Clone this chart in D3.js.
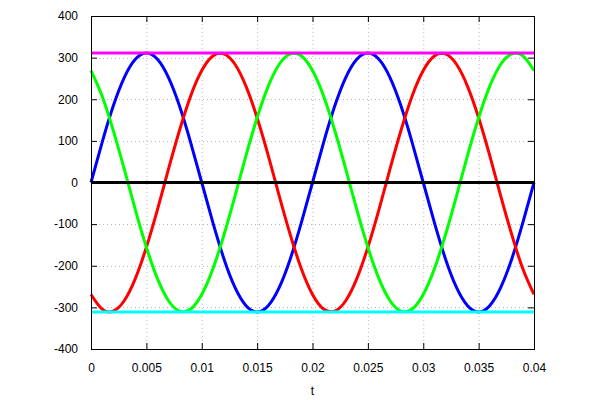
<!DOCTYPE html>
<html><head><meta charset="utf-8">
<script src="https://cdn.jsdelivr.net/npm/d3@7"></script>
<style>body{margin:0;background:#fff}svg{display:block}text{font-family:"Liberation Sans",Arial,sans-serif;font-size:12px;fill:#000}</style>
</head><body>
<svg id="c" width="600" height="400"></svg>
<script>
const tValues = [0,0.001,0.002,0.003,0.004,0.005,0.006,0.007,0.008,0.009,0.010,0.011,0.012,0.013,0.014,0.015,0.016,0.017,0.018,0.019,0.020,0.021,0.022,0.023,0.024,0.025,0.026,0.027,0.028,0.029,0.030,0.031,0.032,0.033,0.034,0.035,0.036,0.037,0.038,0.039,0.040];
const blueValues = [0,96,183,252,296,311,296,252,183,96,0,-96,-183,-252,-296,-311,-296,-252,-183,-96,0,96,183,252,296,311,296,252,183,96,0,-96,-183,-252,-296,-311,-296,-252,-183,-96,0];
const redValues = [-269,-304,-309,-284,-231,-155.5,-65,32.5,126,208,269,304,309,284,231,155.5,65,-32.5,-126,-208,-269,-304,-309,-284,-231,-155.5,-65,32.5,126,208,269,304,309,284,231,155.5,65,-32.5,-126,-208,-269];
const greenValues = [269,208,126,32.5,-65,-155.5,-231,-284,-309,-304,-269,-208,-126,-32.5,65,155.5,231,284,309,304,269,208,126,32.5,-65,-155.5,-231,-284,-309,-304,-269,-208,-126,-32.5,65,155.5,231,284,309,304,269];
const upperT = [0,0.04], upperValues = [311,311];
const lowerT = [0,0.04], lowerValues = [-311,-311];
const zeroT = [0,0.04], zeroValues = [0,0];
const xTicks = [0,0.005,0.01,0.015,0.02,0.025,0.03,0.035,0.04];
const yTicks = [-400,-300,-200,-100,0,100,200,300,400];
const xLabel = "t";

const L=91,R=534,T=16,B=349;
const svg=d3.select("#c");
const x=d3.scaleLinear().domain([0,0.04]).range([L,R]);
const y=d3.scaleLinear().domain([-400,400]).range([B,T]);

// grid
const g=svg.append("g");
g.selectAll("line.gx").data(xTicks.slice(1,-1)).join("line")
 .attr("x1",d=>x(d)+0.5).attr("x2",d=>x(d)+0.5).attr("y1",T).attr("y2",B)
 .attr("stroke","#bbb").attr("stroke-width",1).attr("stroke-dasharray","1,3");
g.selectAll("line.gy").data(yTicks.slice(1,-1)).join("line")
 .attr("y1",d=>Math.round(y(d))+0.5).attr("y2",d=>Math.round(y(d))+0.5).attr("x1",L).attr("x2",R)
 .attr("stroke","#bbb").attr("stroke-width",1).attr("stroke-dasharray","1,3");

// axes with inward ticks
const fmtX=d=>d===0?"0":String(+d.toFixed(3));
const fmtY=d=>String(d);
const axB=svg.append("g").attr("transform",`translate(0,${B})`)
 .call(d3.axisBottom(x).tickValues(xTicks).tickSizeInner(-6).tickSizeOuter(0).tickPadding(14).tickFormat(fmtX));
const axT=svg.append("g").attr("transform",`translate(0,${T})`)
 .call(d3.axisTop(x).tickValues(xTicks).tickSizeInner(-6).tickSizeOuter(0).tickFormat(""));
const axL=svg.append("g").attr("transform",`translate(${L},0)`)
 .call(d3.axisLeft(y).tickValues(yTicks).tickSizeInner(-6).tickSizeOuter(0).tickPadding(13).tickFormat(fmtY));
const axR=svg.append("g").attr("transform",`translate(${R},0)`)
 .call(d3.axisRight(y).tickValues(yTicks).tickSizeInner(-6).tickSizeOuter(0).tickFormat(""));
[axB,axT,axL,axR].forEach(a=>{a.select(".domain").remove();a.selectAll("line").attr("stroke","#000");
 a.selectAll("text").attr("font-family","Liberation Sans, Arial, sans-serif").attr("font-size",12).attr("fill","#000");});

// curves
const line=d3.line().x(d=>x(d[0])).y(d=>y(d[1])).curve(d3.curveNatural);
const lin=d3.line().x(d=>x(d[0])).y(d=>y(d[1]));
const series=[[blueValues,"#0000ff"],[redValues,"#ff0000"],[greenValues,"#00ff00"]];
series.forEach(([vals,col])=>{
 svg.append("path").datum(tValues.map((t,i)=>[t,vals[i]])).attr("d",line)
  .attr("fill","none").attr("stroke",col).attr("stroke-width",3);
});
[[upperT,upperValues,"#ff00ff"],[lowerT,lowerValues,"#00ffff"],[zeroT,zeroValues,"#000000"]].forEach(([ts,vals,col])=>{
 svg.append("path").datum(ts.map((t,i)=>[t,vals[i]])).attr("d",lin)
  .attr("fill","none").attr("stroke",col).attr("stroke-width",3);
});

// frame
svg.append("rect").attr("x",L+0.5).attr("y",T+0.5).attr("width",R-L).attr("height",B-T)
 .attr("fill","none").attr("stroke","#000").attr("stroke-width",1);

svg.append("text").attr("x",(L+R)/2).attr("y",395).attr("text-anchor","middle").text(xLabel);
</script>
</body></html>
